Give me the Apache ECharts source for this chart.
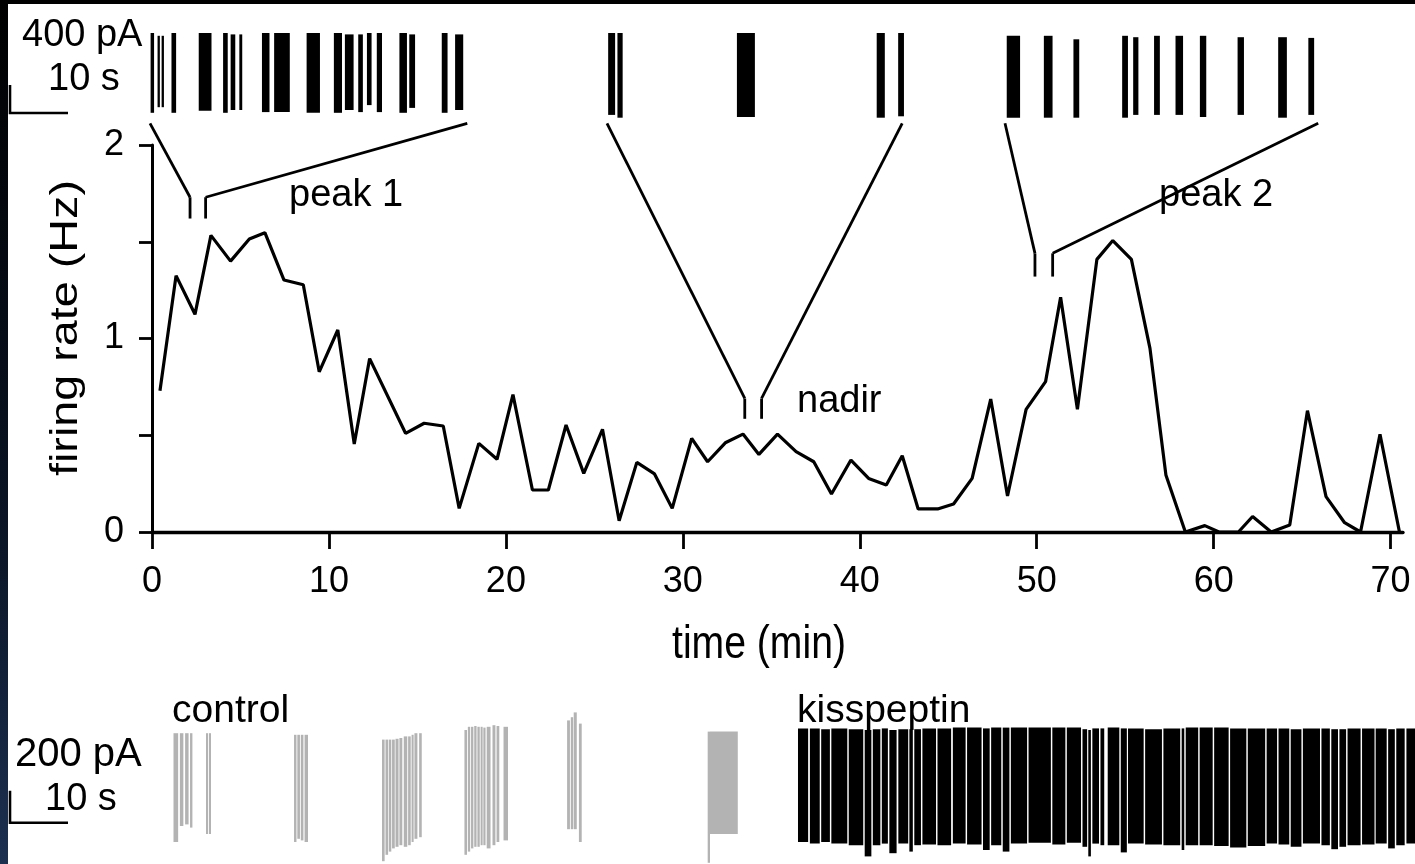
<!DOCTYPE html>
<html>
<head>
<meta charset="utf-8">
<script src="https://cdn.jsdelivr.net/npm/echarts@6/dist/echarts.min.js"></script>
<style>
  html, body { margin: 0; padding: 0; background: #fff; }
  #chart { width: 1415px; height: 864px; }
</style>
</head>
<body>
<div id="chart"></div>
<script>
// ---- firing rate over the recording (min, Hz) ----
const firingTime = [0.45, 1.36, 2.43, 3.33, 4.44, 5.5, 6.38, 7.46, 8.55, 9.45, 10.5, 11.43, 12.3,
  14.33, 15.38, 16.46, 17.36, 18.47, 19.5, 20.4, 21.5,
  22.4, 23.4, 24.4, 25.46, 26.4, 27.4, 28.4, 29.4,
  30.5, 31.4, 32.4, 33.4, 34.3, 35.35, 36.4, 37.4, 38.4, 39.5,
  40.5, 41.5, 42.4, 43.3, 44.4, 45.3, 46.35, 47.4, 48.35, 49.4,
  50.5, 51.35, 52.3, 53.4, 54.3, 55.35, 56.4, 57.3, 58.4, 59.5,
  60.3, 61.4, 62.2, 63.25, 64.3, 65.3, 66.35, 67.4, 68.3, 69.4, 70.5];
const firingRate = [0.73, 1.325, 1.125, 1.533, 1.40, 1.514, 1.547, 1.302, 1.278, 0.828, 1.044, 0.455, 0.896,
  0.51, 0.562, 0.548, 0.122, 0.458, 0.376, 0.71, 0.217,
  0.217, 0.553, 0.303, 0.531, 0.058, 0.36, 0.30, 0.122,
  0.484, 0.363, 0.461, 0.506, 0.401, 0.506, 0.415, 0.363, 0.196, 0.372,
  0.277, 0.243, 0.394, 0.119, 0.119, 0.145, 0.277, 0.687, 0.186, 0.634,
  0.777, 1.213, 0.634, 1.409, 1.506, 1.409, 0.949, 0.295, 0, 0.033,
  0, 0, 0.08, 0, 0.036, 0.627, 0.183, 0.048, 0, 0.505, 0];

const xTickValues = [0, 10, 20, 30, 40, 50, 60, 70];
const yTickValues = [0, 1, 2];

// ---- expanded one-minute windows (min) and their labels ----
const windowNames = ['peak 1', 'nadir', 'peak 2'];
const windowTimes = [[2.15, 3.03], [33.5, 34.45], [49.9, 50.9]];
const windowSpan = [54.7, 50.9, 54.0];          // seconds shown in each expanded trace

// ---- action-current bursts: [start s, end s, top pA, bottom pA] ----
const peak1Trace = [[0.1, 0.7, 0, -1140], [1.3, 1.7, -40, -1060], [2.0, 2.4, -40, -1060], [3.7, 4.5, 0, -1140],
  [8.4, 10.6, 0, -1110], [12.6, 13.4, 0, -1140], [13.9, 14.7, -20, -1100], [15.4, 15.9, -20, -1100],
  [19.3, 20.6, 0, -1130], [21.4, 24.1, 0, -1130], [27.0, 29.3, 0, -1140], [31.7, 33.1, 0, -1140],
  [33.6, 35.1, -20, -1100], [35.9, 36.7, -20, -1130], [37.4, 38.2, 0, -1030], [39.1, 40.0, 0, -1130],
  [43.0, 44.3, 0, -1140], [44.7, 45.7, -20, -1070], [50.3, 51.3, 0, -1140], [52.6, 54.0, -20, -1100]];
const nadirTrace = [[0.2, 1.4, 0, -1170], [1.8, 2.7, 0, -1210], [22.4, 25.5, 0, -1200],
  [46.5, 47.9, 0, -1210], [50.2, 51.2, 0, -1190]];
const peak2Trace = [[0.3, 2.6, -40, -1210], [6.7, 8.2, -40, -1210], [11.8, 12.8, -90, -1210],
  [20.2, 21.2, -40, -1210], [22.1, 23.0, -60, -1170], [25.7, 26.7, -40, -1170], [29.4, 30.7, -40, -1170],
  [33.6, 34.7, -40, -1200], [40.1, 41.2, -60, -1170], [47.1, 48.6, -60, -1210], [52.3, 53.3, -70, -1170]];

const controlTrace = [
  [0.0, 0.8, -20, -700], [1.1, 1.7, -20, -600], [2.0, 2.6, -20, -590], [2.85, 3.26, -20, -610],
  [5.6, 5.95, -20, -650], [6.1, 6.47, -20, -650],
  [20.78, 21.2, -30, -700], [21.35, 21.8, -30, -680], [21.95, 22.4, -30, -690], [22.6, 23.19, -30, -700],
  [35.95, 36.4, -60, -820], [36.55, 37.0, -60, -780], [37.12, 37.55, -60, -760], [37.68, 38.15, -60, -740],
  [38.28, 38.8, -55, -730], [38.95, 39.45, -50, -720], [39.7, 40.3, -40, -730], [40.45, 40.9, -40, -720],
  [41.05, 41.4, -30, -700], [41.54, 42.05, -20, -680], [42.35, 42.8, -20, -670],
  [50.16, 50.6, 0, -780], [50.75, 51.15, 20, -760], [51.3, 51.7, 20, -740], [51.85, 52.25, 25, -730],
  [52.4, 52.8, 20, -730], [52.95, 53.3, 20, -720], [53.42, 53.8, 15, -720], [54.0, 54.66, 20, -740],
  [55.0, 55.5, 30, -720], [55.7, 56.17, 25, -700], [56.9, 57.67, 20, -690],
  [67.86, 68.35, 60, -620], [68.5, 68.9, 80, -620], [69.0, 69.53, 110, -620], [69.9, 70.38, 40, -700],
  [92.1, 92.5, -10, -830], [92.5, 97.29, -10, -650]];
const kisspeptinTrace = [[0, 1.75, 10, -700], [2.05, 3.75, 10, -710], [4.0, 5.5, 5, -700], [5.75, 8.5, 10, -710],
  [8.75, 11.25, 5, -720], [11.5, 12.65, 0, -790], [12.9, 14.2, 5, -720], [14.45, 15.5, 10, -710],
  [15.75, 17.0, 0, -770], [17.3, 19.0, 5, -710], [19.2, 19.8, 5, -760], [20.05, 21.2, 5, -720],
  [21.45, 23.8, 10, -715], [24.05, 26.4, 10, -720], [26.7, 28.9, 15, -710], [29.15, 31.65, 15, -715],
  [31.9, 33.05, 10, -750], [33.3, 35.05, 15, -720], [35.3, 36.45, 15, -760], [36.7, 39.5, 15, -710],
  [39.75, 43.6, 15, -705], [43.85, 46.1, 15, -715], [46.35, 48.8, 15, -705], [49.05, 49.85, 5, -730],
  [50.05, 50.5, 0, -790], [50.75, 51.9, 10, -710], [52.15, 52.8, 10, -720], [53.4, 55.4, 15, -720],
  [55.65, 56.7, 10, -765], [56.9, 59.6, 10, -710], [59.85, 62.75, 5, -715], [63.0, 65.9, 10, -720],
  [66.15, 66.6, 10, -750], [66.85, 69.0, 15, -720], [69.25, 71.5, 15, -720], [71.75, 74.25, 15, -725],
  [74.5, 77.3, 10, -735], [77.55, 80.55, 10, -725], [80.8, 82.6, 10, -710], [82.85, 84.7, 10, -715],
  [84.95, 86.8, 5, -730], [87.05, 90.0, 10, -710], [90.25, 91.7, 10, -720], [91.95, 93.1, 5, -745],
  [93.35, 94.5, 5, -730], [94.75, 97.0, 10, -720], [97.25, 99.4, 10, -715], [99.6, 101.5, 10, -710],
  [101.75, 102.9, 5, -740], [103.15, 104.6, 10, -720], [104.9, 107, 10, -710]];

// scale bars: [seconds, pA]
const topScaleBar = [10, 400];
const bottomScaleBar = [10, 200];

// ---- layout ----
const FONT = "'Liberation Sans', Arial, sans-serif";
const traceStart = [24.14, 102.93, 171.55];        // placement of the expanded traces (s)
const controlStart = 28.19, kisspeptinStart = 135.86;
const traceAxisMax = 242.24;                       // 1405 px at 5.8 px per second
const topBarAnchor = [0, -1143];
const bottomBarAnchor = [0, -580];
const connectorLevel = -1290;                      // pA, just under the expanded traces
const markerRange = [[1.62, 1.73], [0.585, 0.69], [1.32, 1.44]];

function shift(trace, offset) {
  return trace.map(b => [b[0] + offset, b[1] + offset, b[2], b[3]]);
}

function burstSeries(name, data, grid, color) {
  return {
    type: 'custom', name: name, xAxisIndex: grid, yAxisIndex: grid,
    encode: { x: [0, 1], y: [2, 3] }, data: data, clip: true, silent: true,
    renderItem: function (params, api) {
      const a = api.coord([api.value(0), api.value(2)]);
      const b = api.coord([api.value(1), api.value(3)]);
      return {
        type: 'rect',
        shape: { x: a[0], y: a[1], width: Math.max(b[0] - a[0], 1.6), height: b[1] - a[1] },
        style: { fill: color }
      };
    }
  };
}

function scaleBarSeries(anchor, bar, grid) {
  return {
    type: 'custom', xAxisIndex: grid, yAxisIndex: grid, silent: true, clip: false,
    data: [[anchor[0], anchor[1], bar[0], bar[1]]],
    encode: { x: 0, y: 1 },
    renderItem: function (params, api) {
      const x0 = api.value(0), y0 = api.value(1);
      const p1 = api.coord([x0, y0 + api.value(3)]);
      const p2 = api.coord([x0, y0]);
      const p3 = api.coord([x0 + api.value(2), y0]);
      return {
        type: 'polyline', shape: { points: [p1, p2, p3] },
        style: { stroke: '#000', lineWidth: 2.6, fill: null }
      };
    }
  };
}

const hiddenAxis = { show: false, splitLine: { show: false } };

const chart = echarts.init(document.getElementById('chart'));
chart.setOption({
  backgroundColor: '#fff',
  animation: false,
  grid: [
    { left: 152, top: 145, width: 1251, height: 387 },
    { left: 10, top: 19, width: 1405, height: 112 },
    { left: 10, top: 690, width: 1405, height: 174 }
  ],
  xAxis: [
    {
      gridIndex: 0, type: 'value', min: 0, max: 70.7, interval: 10,
      axisLine: { show: true, onZero: false, lineStyle: { color: '#000', width: 3.4 } },
      axisTick: { show: true, length: 17, customValues: xTickValues, lineStyle: { color: '#000', width: 2.8 } },
      axisLabel: { customValues: xTickValues, fontSize: 36, fontFamily: FONT, color: '#000', margin: 32 },
      splitLine: { show: false }
    },
    Object.assign({ gridIndex: 1, type: 'value', min: 0, max: traceAxisMax }, hiddenAxis),
    Object.assign({ gridIndex: 2, type: 'value', min: 0, max: traceAxisMax }, hiddenAxis)
  ],
  yAxis: [
    {
      gridIndex: 0, type: 'value', min: 0, max: 2, interval: 0.5,
      axisLine: { show: true, lineStyle: { color: '#000', width: 3 } },
      axisTick: { show: true, length: 13, lineStyle: { color: '#000', width: 2.8 } },
      axisLabel: { customValues: yTickValues, fontSize: 36, fontFamily: FONT, color: '#000', margin: 28 },
      splitLine: { show: false }
    },
    Object.assign({ gridIndex: 1, type: 'value', min: -1400, max: 200 }, hiddenAxis),
    Object.assign({ gridIndex: 2, type: 'value', min: -837.5, max: 250 }, hiddenAxis)
  ],
  series: [
    {
      type: 'line', name: 'firing rate', xAxisIndex: 0, yAxisIndex: 0,
      data: firingTime.map((t, i) => [t, firingRate[i]]),
      symbol: 'none', lineStyle: { color: '#000', width: 3.2 }, z: 3
    },
    burstSeries('peak 1', shift(peak1Trace, traceStart[0]), 1, '#000'),
    burstSeries('nadir', shift(nadirTrace, traceStart[1]), 1, '#000'),
    burstSeries('peak 2', shift(peak2Trace, traceStart[2]), 1, '#000'),
    burstSeries('control', shift(controlTrace, controlStart), 2, '#b3b3b3'),
    burstSeries('kisspeptin', shift(kisspeptinTrace, kisspeptinStart), 2, '#000'),
    scaleBarSeries(topBarAnchor, topScaleBar, 1),
    scaleBarSeries(bottomBarAnchor, bottomScaleBar, 2)
  ]
});

// ---- connectors, labels and frame ----
function txt(id, s, x, y, size, extra) {
  return Object.assign({
    type: 'text', id: id, x: x, y: y, z: 50, silent: true,
    style: {
      text: s, fontSize: size, fontFamily: FONT, fill: '#000',
      align: 'left', textAlign: 'left', verticalAlign: 'middle', textVerticalAlign: 'middle'
    }
  }, extra || {});
}
function seg(id, p, q) {
  return {
    type: 'line', id: id, z: 40, silent: true,
    shape: { x1: p[0], y1: p[1], x2: q[0], y2: q[1] },
    style: { stroke: '#000', lineWidth: 2.8 }
  };
}
function centred(s, size) {
  return {
    text: s, fontSize: size, fontFamily: FONT, fill: '#000',
    align: 'center', textAlign: 'center', verticalAlign: 'middle', textVerticalAlign: 'middle'
  };
}

const graphics = [];
windowTimes.forEach((w, i) => {
  const r = markerRange[i];
  const lLo = chart.convertToPixel({ gridIndex: 0 }, [w[0], r[0]]);
  const lHi = chart.convertToPixel({ gridIndex: 0 }, [w[0], r[1]]);
  const rLo = chart.convertToPixel({ gridIndex: 0 }, [w[1], r[0]]);
  const rHi = chart.convertToPixel({ gridIndex: 0 }, [w[1], r[1]]);
  const tL = chart.convertToPixel({ gridIndex: 1 }, [traceStart[i], connectorLevel]);
  const tR = chart.convertToPixel({ gridIndex: 1 }, [traceStart[i] + windowSpan[i], connectorLevel]);
  graphics.push(seg('ml' + i, lLo, lHi), seg('mr' + i, rLo, rHi),
    seg('dl' + i, lHi, tL), seg('dr' + i, rHi, tR));
});

graphics.push(
  txt('lbl0', windowNames[0], 289, 196, 38),
  txt('lbl1', windowNames[1], 797, 402, 38),
  txt('lbl2', windowNames[2], 1159, 196, 38),
  txt('sbTopA', '400 pA', 22, 36, 38),
  txt('sbTopT', '10 s', 48, 80, 38),
  txt('ctl', 'control', 172, 711, 39),
  txt('kiss', 'kisspeptin', 797, 711, 39),
  txt('sbBotA', '200 pA', 15, 755, 40),
  txt('sbBotT', '10 s', 45, 800, 38),
  txt('xname', 'time (min)', 759, 645, 38, { scaleY: 1.2, scaleX: 1.03, style: centred('time (min)', 38) }),
  txt('yname', 'firing rate (Hz)', 67, 328, 38, { rotation: Math.PI / 2, scaleX: 1.23, style: centred('firing rate (Hz)', 38) }),
  {
    type: 'rect', id: 'frameTop', z: 100, silent: true,
    shape: { x: 0, y: 0, width: 1415, height: 4 }, style: { fill: '#000' }
  },
  {
    type: 'rect', id: 'frameLeft', z: 100, silent: true,
    shape: { x: 0, y: 0, width: 8, height: 864 },
    style: { fill: new echarts.graphic.LinearGradient(0, 0, 0, 1, [
      { offset: 0, color: '#000' }, { offset: 0.6, color: '#0a1424' }, { offset: 1, color: '#1c3050' }]) }
  }
);

chart.setOption({ graphic: graphics });
</script>
</body>
</html>
